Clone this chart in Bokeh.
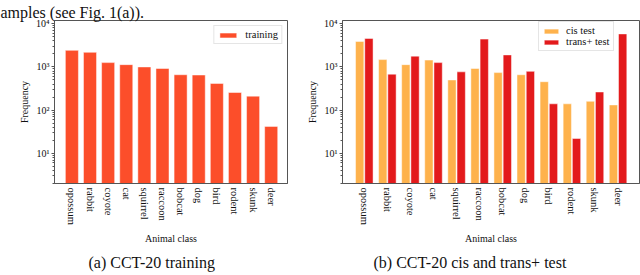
from bokeh.plotting import figure
from bokeh.models import Range1d, FixedTicker, CustomJSTickFormatter, Title, ColumnDataSource
from bokeh.layouts import row
from bokeh.transform import dodge
from bokeh.embed import file_html
from bokeh.resources import INLINE

categories = ["opossum", "rabbit", "coyote", "cat", "squirrel", "raccoon",
              "bobcat", "dog", "bird", "rodent", "skunk", "deer"]
training = [2420, 2180, 1260, 1130, 1000, 920, 660, 650, 415, 256, 211, 42]
cis_test = [3900, 1480, 1130, 1440, 500, 920, 740, 660, 455, 140, 160, 132]
trans_test = [4570, 680, 1780, 1260, 770, 4410, 1900, 790, 140, 22, 263, 5820]

x_label = "Animal class"
y_label = "Frequency"
caption_a = "(a) CCT-20 training"
caption_b = "(b) CCT-20 cis and trans+ test"
top_text = "amples (see Fig. 1(a))."

FONT = "Liberation Serif"
GRAY = "#555555"
TXT = "#111111"
C_TRAIN = "#fc4e2a"
C_CIS = "#feb24c"
C_TRANS = "#e31a1c"

SUP = """
const s = {'0':'\u2070','1':'\u00b9','2':'\u00b2','3':'\u00b3','4':'\u2074','5':'\u2075','6':'\u2076','7':'\u2077','8':'\u2078','9':'\u2079','-':'\u207b'};
const e = Math.round(Math.log10(tick)).toString();
return '10' + e.split('').map(c => s[c]).join('');
"""

xs = list(range(len(categories)))
H = 275


def make_fig(width, xr, left, right, top):
    p = figure(width=width, height=H, y_axis_type="log",
               x_range=Range1d(*xr), y_range=Range1d(2, 11900),
               output_backend="svg", toolbar_location=None,
               min_border_left=left, min_border_right=right,
               min_border_top=top, min_border_bottom=H - 186)
    p.grid.visible = False
    p.outline_line_color = GRAY
    p.outline_line_width = 1
    p.background_fill_color = "white"
    p.border_fill_color = "white"

    p.xaxis.ticker = FixedTicker(ticks=xs)
    p.xaxis.major_label_overrides = {i: c for i, c in enumerate(categories)}
    p.xaxis.major_label_orientation = "vertical"
    p.xaxis.major_tick_out = 0
    p.xaxis.major_tick_in = 0
    p.xaxis.major_label_standoff = 4
    p.xaxis.axis_label = x_label
    p.xaxis.axis_label_standoff = 5

    p.yaxis.formatter = CustomJSTickFormatter(code=SUP)
    p.yaxis.axis_label = y_label
    p.yaxis.major_tick_out = 3
    p.yaxis.major_tick_in = 0
    p.yaxis.minor_tick_out = 2
    p.yaxis.minor_tick_in = 0
    p.yaxis.major_label_standoff = 2
    p.yaxis.axis_label_standoff = 3

    for ax in (p.xaxis[0], p.yaxis[0]):
        ax.axis_line_color = GRAY
        ax.major_label_text_font = FONT
        ax.major_label_text_font_size = "10.5px"
        ax.major_label_text_color = TXT
        ax.axis_label_text_font = FONT
        ax.axis_label_text_font_size = "10px"
        ax.axis_label_text_font_style = "normal"
        ax.axis_label_text_color = TXT
    p.xaxis.major_tick_line_color = None
    p.xaxis.minor_tick_line_color = None
    p.yaxis.major_tick_line_color = GRAY
    p.yaxis.minor_tick_line_color = GRAY
    p.yaxis.major_label_text_font_size = "10px"
    return p


def style_legend(p, glyph_w, standoff):
    lg = p.legend[0]
    lg.label_text_font = FONT
    lg.label_text_font_size = "10.5px"
    lg.label_text_color = TXT
    lg.label_text_line_height = 1.0
    lg.glyph_width = glyph_w
    lg.glyph_height = 6
    lg.label_height = 11
    lg.label_standoff = standoff
    lg.padding = 3
    lg.spacing = 0
    lg.border_line_color = "#cccccc"
    lg.background_fill_alpha = 0.9
    return lg


def caption(text, offset):
    return Title(text=text, align="left", offset=offset, standoff=10,
                 text_font=FONT, text_font_size="16px", text_font_style="normal",
                 text_color=TXT)


# Left: training
p1 = make_fig(298, (-0.96, 11.9), 54, 11, 19)
src1 = ColumnDataSource(dict(x=xs, cat=categories, top=training))
p1.vbar(x="x", top="top", bottom=1, width=0.72, source=src1,
        fill_color=C_TRAIN, line_color="white", line_alpha=0.6, line_width=0.8,
        legend_label="training")
lg1 = style_legend(p1, 21, 7)
lg1.location = "top_right"
lg1.margin = 5
p1.add_layout(caption(caption_a, 34), "below")
p1.add_layout(Title(text=top_text, align="left", offset=-54, standoff=0,
                    text_font=FONT, text_font_size="16px", text_font_style="normal",
                    text_color=TXT), "above")

# Right: cis and trans+ test
p2 = make_fig(342, (-0.945, 11.93), 44, 1, 20)
src2 = ColumnDataSource(dict(x=xs, cat=categories, cis=cis_test, trans=trans_test))
p2.vbar(x=dodge("x", -0.2, range=p2.x_range), top="cis", bottom=1, width=0.36,
        source=src2, fill_color=C_CIS, line_color="white", line_alpha=0.6,
        line_width=0.8, legend_label="cis test")
p2.vbar(x=dodge("x", 0.2, range=p2.x_range), top="trans", bottom=1, width=0.36,
        source=src2, fill_color=C_TRANS, line_color="white", line_alpha=0.6,
        line_width=0.8, legend_label="trans+ test")
lg2 = style_legend(p2, 18, 6)
lg2.location = (196, 132)
p2.add_layout(caption(caption_b, 31), "below")

layout = row(p1, p2, spacing=0)
open("out.html", "w").write(file_html(layout, INLINE))
